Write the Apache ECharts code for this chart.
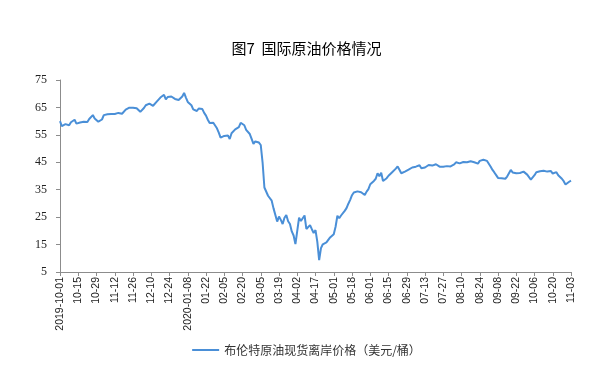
<!DOCTYPE html>
<html>
<head>
    <meta charset="utf-8">
    <title>图7 国际原油价格情况</title>
    <script src="https://cdn.jsdelivr.net/npm/echarts/dist/echarts.min.js"></script>
    <style>
        html, body { margin: 0; padding: 0; background: #fff; }
    </style>
</head>
<body>
    <div id="main" style="width: 613px;height:372px;"></div>
    <script type="text/javascript">
    // one label every 10 trading days
    var tickLabels = ['2019-10-01', '10-15', '10-29', '11-12', '11-26', '12-10', '12-24',
        '2020-01-08', '01-22', '02-05', '02-20', '03-05', '03-19', '04-02', '04-17',
        '05-01', '05-18', '06-01', '06-15', '06-29', '07-13', '07-27', '08-10',
        '08-24', '09-08', '09-22', '10-06', '10-20', '11-03'];

    // 布伦特原油现货离岸价格（美元/桶）, daily
    var brentPrice = [
        60.0, 58.2, 58.3, 58.9, 59.4, 58.5, 59.6, 60.2, 60.5, 59.1,
        59.4, 59.5, 59.6, 59.8, 60.3, 59.7, 60.8, 61.5, 62.2, 61.0,
        60.6, 59.8, 59.5, 60.6, 62.2, 62.6, 62.5, 62.2, 62.6, 62.3,
        62.6, 62.4, 63.0, 63.3, 62.7, 63.0, 64.2, 64.9, 64.9, 64.8,
        64.9, 64.9, 64.7, 64.2, 63.4, 63.0, 64.8, 65.8, 66.5, 66.4,
        66.7, 65.6, 66.3, 67.1, 67.8, 68.6, 69.2, 69.6, 67.9, 68.8,
        69.0, 69.0, 68.6, 68.1, 67.9, 67.7, 67.2, 69.0, 70.3, 68.6,
        67.0, 66.6, 65.8, 64.3, 64.8, 63.7, 64.6, 64.7, 64.4, 63.0,
        62.0, 60.5, 59.3, 58.8, 59.4, 58.9, 57.4, 55.8, 54.0, 54.5,
        54.6, 55.2, 54.8, 53.5, 55.6, 56.3, 57.0, 57.4, 57.8, 59.4,
        59.5, 58.5, 56.8, 56.5, 55.3, 53.5, 51.7, 52.6, 52.4, 52.2,
        51.3, 45.0, 35.8, 35.6, 32.8, 32.7, 31.0, 28.2, 27.8, 23.4,
        25.2, 24.0, 22.5, 24.8, 25.8, 23.5, 22.5, 19.8, 18.3, 15.2,
        20.0, 24.8, 23.6, 24.0, 25.6, 20.7, 21.2, 22.1, 20.6, 19.2,
        20.3, 16.0, 9.3, 13.7, 15.1, 15.8, 15.8, 15.5, 17.6, 18.0,
        18.8, 21.5, 25.5, 24.6, 25.6, 26.2, 27.3, 28.3, 29.9, 31.3,
        33.0, 34.0, 34.7, 34.4, 34.2, 34.1, 33.9, 33.1, 34.3, 35.2,
        37.0, 37.6, 38.2, 39.0, 41.0, 39.9, 41.2, 38.2, 38.6, 39.2,
        40.1, 40.7, 41.4, 41.9, 42.7, 43.5, 42.3, 41.0, 41.5, 41.6,
        41.9, 42.3, 42.7, 43.1, 43.1, 43.4, 43.8, 43.9, 42.8, 43.4,
        43.1, 43.7, 44.0, 44.0, 43.8, 43.5, 44.3, 44.0, 43.4, 43.2,
        43.4, 43.3, 43.6, 43.2, 43.5, 43.9, 44.2, 45.0, 44.9, 44.6,
        44.3, 45.1, 45.1, 45.0, 45.2, 45.4, 45.2, 45.0, 44.5, 44.5,
        45.5, 46.1, 45.9, 45.3, 45.5, 45.3, 43.4, 42.2, 41.3, 40.3,
        39.3, 40.0, 39.2, 38.7, 39.0, 39.8, 41.0, 42.2, 41.3, 40.8,
        41.0, 41.3, 41.1, 41.0, 41.6, 40.9, 40.5, 39.8, 38.7, 38.9,
        40.3, 41.4, 41.9, 41.7, 41.3, 41.9, 41.6, 41.6, 41.5, 41.8,
        40.9, 41.2, 41.4, 40.3, 39.7, 39.0, 38.1, 36.9, 36.5, 37.9,
        38.3
    ];

    var days = brentPrice.map(function (v, i) { return String(i); });

    var myChart = echarts.init(document.getElementById('main'));
    var option = {
        animation: false,
        title: {
            text: '图7  国际原油价格情况',
            left: 'center',
            top: 36,
            textStyle: {
                fontFamily: 'Noto Sans CJK SC',
                fontSize: 15,
                fontWeight: 'normal',
                color: '#000'
            }
        },
        legend: {
            data: ['布伦特原油现货离岸价格（美元/桶）'],
            left: 'center',
            top: 339,
            icon: 'rect',
            itemWidth: 27,
            itemHeight: 2,
            itemGap: 4,
            textStyle: {
                fontFamily: 'Noto Sans CJK SC',
                fontSize: 12,
                color: '#333'
            }
        },
        grid: {
            left: 60,
            right: 42,
            top: 80,
            bottom: 100
        },
        xAxis: {
            type: 'category',
            data: days,
            boundaryGap: false,
            axisLine: { lineStyle: { color: '#8c8c8c', width: 1 } },
            axisTick: { interval: 9, length: 4, lineStyle: { color: '#8c8c8c' } },
            axisLabel: {
                interval: 9,
                rotate: 90,
                margin: 5,
                fontFamily: 'Liberation Sans',
                fontSize: 10.5,
                color: '#222',
                formatter: function (v, idx) {
                    return idx % 10 === 0 ? tickLabels[idx / 10] : '';
                }
            }
        },
        yAxis: {
            type: 'value',
            min: 5,
            max: 75,
            interval: 10,
            axisLine: { show: true, lineStyle: { color: '#8c8c8c', width: 1 } },
            axisTick: { show: true, length: 4, lineStyle: { color: '#8c8c8c' } },
            splitLine: { show: false },
            axisLabel: {
                margin: 13,
                fontFamily: 'Liberation Serif',
                fontSize: 12,
                color: '#222'
            }
        },
        series: [{
            name: '布伦特原油现货离岸价格（美元/桶）',
            type: 'line',
            data: brentPrice,
            symbol: 'none',
            lineStyle: { color: '#4a8fd7', width: 2 },
            itemStyle: { color: '#4a8fd7' }
        }]
    };
    myChart.setOption(option);
    </script>
</body>
</html>
